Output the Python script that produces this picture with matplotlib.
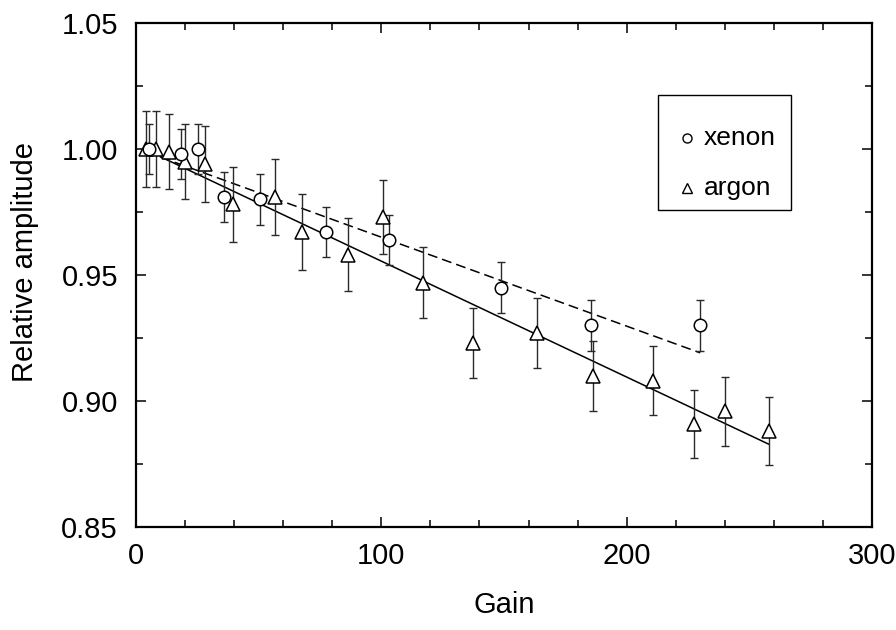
import numpy as np
import matplotlib
matplotlib.use("Agg")
import matplotlib.pyplot as plt
from matplotlib.ticker import MultipleLocator, FormatStrFormatter
from matplotlib.patches import Rectangle

plt.rcParams["font.family"] = ["Liberation Sans", "DejaVu Sans"]

# xenon points (gain, relative amplitude, error)
xe_gain = [5.4, 18.2, 25.3, 35.8, 50.5, 77.5, 103.3, 148.7, 185.5, 229.9]
xe_amp = [1.000, 0.998, 1.000, 0.981, 0.980, 0.967, 0.964, 0.945, 0.930, 0.930]
xe_err = [0.010] * 10

# argon points
ar_gain = [4.1, 8.2, 13.5, 20.0, 28.0, 39.7, 56.7, 67.7, 86.5, 100.8,
           117.1, 137.3, 163.6, 186.4, 210.9, 227.5, 240.1, 258.0]
ar_amp = [1.000, 1.000, 0.999, 0.995, 0.994, 0.978, 0.981, 0.967, 0.958, 0.973,
          0.947, 0.923, 0.927, 0.910, 0.908, 0.891, 0.896, 0.888]
ar_err = [0.015, 0.015, 0.015, 0.015, 0.015, 0.015, 0.015, 0.015, 0.0145, 0.0145,
          0.014, 0.014, 0.014, 0.014, 0.0137, 0.0135, 0.0137, 0.0135]

# linear fits (intercept, slope) and their gain range
xe_fit = (1.0003, -0.000353)
xe_fit_range = (10, 230)
ar_fit = (1.0015, -0.00046)
ar_fit_range = (10, 258)

fig = plt.figure(figsize=(8.96, 6.3), dpi=100)
ax = fig.add_axes([0.1518, 0.1635, 0.8214, 0.8000])

# fit lines
xf = np.array(xe_fit_range)
ax.plot(xf, xe_fit[0] + xe_fit[1] * xf, color="black", lw=1.1,
        linestyle=(0, (6.5, 3.3)), zorder=2)
af = np.array(ar_fit_range)
ax.plot(af, ar_fit[0] + ar_fit[1] * af, color="black", lw=1.1, zorder=2)

# error bars
ax.errorbar(ar_gain, ar_amp, yerr=ar_err, fmt="none", ecolor="#2a2a2a",
            elinewidth=1.0, capsize=3, capthick=1.0, zorder=3)
ax.errorbar(xe_gain, xe_amp, yerr=xe_err, fmt="none", ecolor="#2a2a2a",
            elinewidth=1.0, capsize=3, capthick=1.0, zorder=3)

# markers
ax.plot(ar_gain, ar_amp, linestyle="none", marker="^", ms=9.5, mfc="white",
        mec="black", mew=1.1, zorder=4)
ax.plot(xe_gain, xe_amp, linestyle="none", marker="o", ms=9, mfc="white",
        mec="black", mew=1.1, zorder=4)

# legend box, drawn by hand
ax.add_patch(Rectangle((0.709, 0.629), 0.181, 0.228, transform=ax.transAxes,
                       facecolor="white", edgecolor="black", lw=1.0, zorder=5))
ax.plot([0.749], [0.772], transform=ax.transAxes, marker="o", ms=6.5,
        mfc="white", mec="black", mew=1.0, linestyle="none", zorder=6)
ax.plot([0.749], [0.673], transform=ax.transAxes, marker="^", ms=6.5,
        mfc="white", mec="black", mew=1.0, linestyle="none", zorder=6)
ax.text(0.772, 0.772, "xenon", transform=ax.transAxes, fontsize=19,
        va="center", ha="left", zorder=6)
ax.text(0.772, 0.673, "argon", transform=ax.transAxes, fontsize=19,
        va="center", ha="left", zorder=6)

ax.set_xlim(0, 300)
ax.set_ylim(0.85, 1.05)
ax.xaxis.set_major_locator(MultipleLocator(100))
ax.xaxis.set_minor_locator(MultipleLocator(20))
ax.yaxis.set_major_locator(MultipleLocator(0.05))
ax.yaxis.set_minor_locator(MultipleLocator(0.025))
ax.yaxis.set_major_formatter(FormatStrFormatter("%.2f"))

ax.tick_params(which="both", direction="in", top=True, right=True,
               labelsize=21, width=1.1)
ax.tick_params(which="major", length=7)
ax.tick_params(which="minor", length=5)
ax.tick_params(axis="y", pad=13)
ax.tick_params(axis="x", pad=11)
for s in ax.spines.values():
    s.set_linewidth(1.6)

ax.set_xlabel("Gain", fontsize=21)
ax.set_ylabel("Relative amplitude", fontsize=21)
ax.xaxis.set_label_coords(0.5, (527 - 605) / 504)
ax.yaxis.set_label_coords((25 - 136) / 736, 0.526)
ax.yaxis.label.set_va("center")
ax.xaxis.label.set_va("center")

fig.savefig("out.png", dpi=100)
